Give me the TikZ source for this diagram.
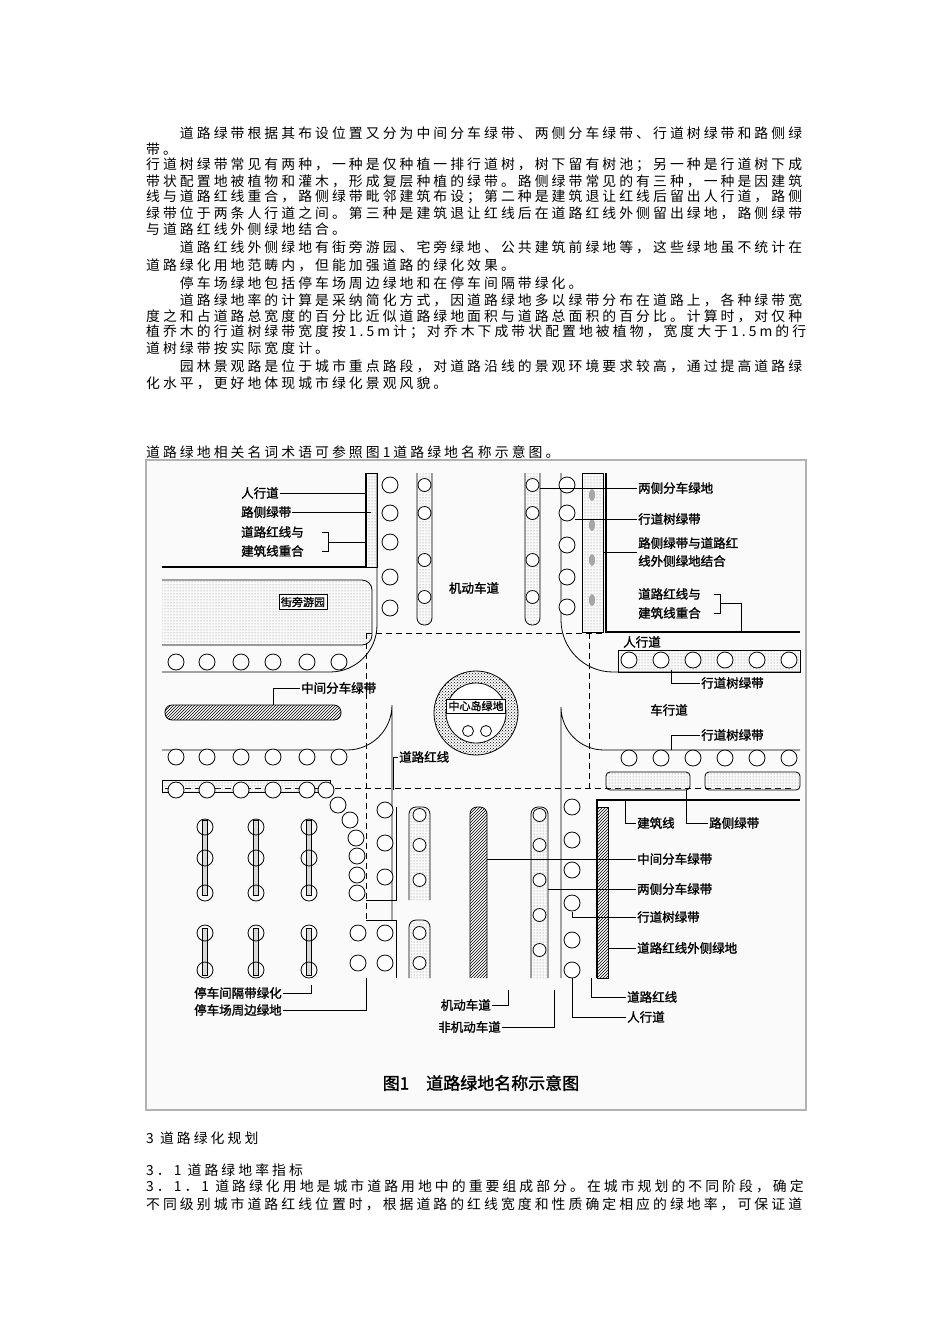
\documentclass[tikz,border=0pt]{standalone}
\usepackage{fontspec}
\usetikzlibrary{patterns}
\newfontfamily\cjk[LetterSpace=22]{Noto Sans CJK SC}
\newfontfamily\labf[FakeBold=1.5]{Noto Sans CJK SC}
\newcommand\tline[2]{\node[anchor=west,inner sep=0,font=\cjk\fontsize{13.85}{15}\selectfont] at (146,#1) {#2};}
\tikzset{
 tree/.style={draw,thick,circle,minimum size=16pt,inner sep=0,fill=white},
 lab/.style={font=\labf\fontsize{12.5}{13}\selectfont,inner sep=1pt},
 lead/.style={thick},
 bline/.style={line width=2.2pt},
 strip/.style={draw,thick,pattern=dots,pattern color=gray},
 hatch/.style={draw,thick,pattern=north east lines},
 dsh/.style={thick,dashed,dash pattern=on 6pt off 4pt},
}
\begin{document}
\begin{tikzpicture}[x=1pt,y=-1pt]
\useasboundingbox (0,0) rectangle (950,1344);
\fill[white] (0,0) rectangle (950,1344);
% ---- body text
\tline{133}{　　道路绿带根据其布设位置又分为中间分车绿带、两侧分车绿带、行道树绿带和路侧绿}
\tline{149}{带。}
\tline{165}{行道树绿带常见有两种，一种是仅种植一排行道树，树下留有树池；另一种是行道树下成}
\tline{181}{带状配置地被植物和灌木，形成复层种植的绿带。路侧绿带常见的有三种，一种是因建筑}
\tline{197}{线与道路红线重合，路侧绿带毗邻建筑布设；第二种是建筑退让红线后留出人行道，路侧}
\tline{213}{绿带位于两条人行道之间。第三种是建筑退让红线后在道路红线外侧留出绿地，路侧绿带}
\tline{229}{与道路红线外侧绿地结合。}
\tline{247}{　　道路红线外侧绿地有街旁游园、宅旁绿地、公共建筑前绿地等，这些绿地虽不统计在}
\tline{265}{道路绿化用地范畴内，但能加强道路的绿化效果。}
\tline{283}{　　停车场绿地包括停车场周边绿地和在停车间隔带绿化。}
\tline{300}{　　道路绿地率的计算是采纳简化方式，因道路绿地多以绿带分布在道路上，各种绿带宽}
\tline{316}{度之和占道路总宽度的百分比近似道路绿地面积与道路总面积的百分比。计算时，对仅种}
\tline{332}{植乔木的行道树绿带宽度按1.5m计；对乔木下成带状配置地被植物，宽度大于1.5m的行}
\tline{348}{道树绿带按实际宽度计。}
\tline{366}{　　园林景观路是位于城市重点路段，对道路沿线的景观环境要求较高，通过提高道路绿}
\tline{383}{化水平，更好地体现城市绿化景观风貌。}
\tline{452}{道路绿地相关名词术语可参照图1道路绿地名称示意图。}
\tline{1138}{3 道路绿化规划}
\tline{1170}{3．1 道路绿地率指标}
\tline{1186}{3．1．1 道路绿化用地是城市道路用地中的重要组成部分。在城市规划的不同阶段，确定}
\tline{1204}{不同级别城市道路红线位置时，根据道路的红线宽度和性质确定相应的绿地率，可保证道}
% ---- figure frame
\draw[gray!60,fill=gray!4,line width=1.5pt] (146,460) rectangle (806,1110);
% ---- top left block
\draw[bline] (162,567) -- (366,567) -- (366,473);
\draw[strip] (366,473) rectangle (377,567);
\draw[thick] (377,473) -- (377,625) arc[start angle=0,end angle=90,radius=47] -- (162,672);
\foreach \y in {485,513,542,577,608} \node[tree] at (390,\y) {};
\draw[strip,rounded corners=10pt] (162,580) -- (372,580) -- (372,645) -- (162,645);
\node[draw,thick,fill=white,font=\labf\fontsize{11}{12}\selectfont,inner sep=2pt] (jp) at (303,602) {街旁游园};
\foreach \x in {176,207,241,273,307,339} \node[tree] at (\x,662) {};
% dividers top
\draw[strip,rounded corners=7pt] (417,473) -- (417,625) -- (432,625) -- (432,473);
\foreach \y in {485,513,560,597} \node[tree,minimum size=13pt] at (424.5,\y) {};
\draw[strip,rounded corners=7pt] (525,473) -- (525,625) -- (540,625) -- (540,473);
\foreach \y in {485,513,560,597} \node[tree,minimum size=13pt] at (532.5,\y) {};
\node[lab] at (474,588) {机动车道};
% top right
\draw[bline] (606,473) -- (606,632) -- (800,632);
\draw[strip] (582,473) rectangle (603,632);
\foreach \y in {495,525,560,600} \fill[gray!70] (592,\y) ellipse (3 and 6);
\draw[thick] (561,473) -- (561,620) arc[start angle=180,end angle=90,radius=52] -- (800,672);
\foreach \y in {485,513,545,577,607} \node[tree] at (567,\y) {};
\draw[strip] (618,650) rectangle (800,672);
\foreach \x in {629,661,693,725,757,789} \node[tree] at (\x,660) {};
\node[lab] at (642,642) {人行道};
% dashed
\draw[dsh] (366,633) -- (606,633);
\draw[dsh] (366,633) -- (366,920);
\draw[dsh] (589,633) -- (589,788);
\draw[dsh] (165,788) -- (792,788);
% centre island
\draw[thick,pattern=crosshatch dots] (476,713) circle (42);
\draw[thick,fill=white] (476,713) circle (30);
\node[draw,thick,fill=white,font=\labf\fontsize{11}{12}\selectfont,inner sep=2pt] at (476,706) {中心岛绿地};
\node[tree,minimum size=11pt] at (468,731) {};
\node[tree,minimum size=11pt] at (486,731) {};
% median left
\draw[hatch,rounded corners=7pt] (165,705) rectangle (341,720);
\node[lab,anchor=west] (l1) at (300,688) {中间分车绿带};
\draw[lead] (l1.west) -- (273,688) -- (273,705);
\node[lab] at (669,710) {车行道};
% lower left horizontal road
\draw[thick] (162,750) -- (347,750) arc[start angle=90,end angle=0,radius=45] -- (392,920);
\foreach \x in {176,207,241,273,307,339} \node[tree] at (\x,757) {};
\draw[strip] (162,780) rectangle (330,792);
\foreach \x in {176,207,241,273,307} \node[tree] at (\x,790) {};
\foreach \p in {(326,790),(338,805),(350,820),(356,838),(357,856),(357,875),(357,893)} \node[tree] at \p {};
% lower right horizontal
\draw[thick] (800,750) -- (604,750) arc[start angle=90,end angle=180,radius=43] -- (561,978);
\foreach \x in {629,661,693,725,757,789} \node[tree] at (\x,758) {};
\draw[strip,rounded corners=4pt] (606,772) rectangle (690,790);
\draw[strip,rounded corners=4pt] (705,772) rectangle (800,790);
\draw[bline] (800,800) -- (597,800) -- (597,978);
\draw[hatch] (597,807) rectangle (608,978);
\foreach \y in {807,840,870,903,940,970} \node[tree] at (572,\y) {};
% lower dividers
\draw[strip,rounded corners=7pt] (531,978) -- (531,807) -- (548,807) -- (548,978);
\foreach \y in {815,845,880,915,950} \node[tree,minimum size=13pt] at (539.5,\y) {};
\draw[hatch,rounded corners=7pt] (470,978) -- (470,807) -- (487,807) -- (487,978);
\draw[strip,rounded corners=7pt] (409,900) -- (409,807) -- (430,807) -- (430,900);
\foreach \y in {815,845,880} \node[tree,minimum size=13pt] at (419.5,\y) {};
\draw[strip,rounded corners=7pt] (409,978) -- (409,920) -- (430,920) -- (430,978);
\foreach \y in {933,963} \node[tree,minimum size=13pt] at (419.5,\y) {};
\draw[thick] (396,807) -- (396,900) -- (366,900);
\draw[thick] (396,978) -- (396,920) -- (366,920);
\foreach \y in {810,843,877,933,963} \node[tree] at (385,\y) {};
\foreach \y in {933,963} \node[tree] at (358,\y) {};
% parking
\foreach \x in {205,256,309}{
 \draw[thick,fill=gray!30] (\x-2.5,820) rectangle (\x+2.5,895);
 \draw[thick,fill=gray!30] (\x-2.5,928) rectangle (\x+2.5,975);
 \foreach \y in {827,858,893,933,970} \draw[thick] (\x,\y) circle (8);
}
% ---- labels top left
\node[lab,anchor=west] (a1) at (240,493) {人行道};
\draw[lead] (a1.east) -- (366,493);
\node[lab,anchor=west] (a2) at (240,512) {路侧绿带};
\draw[lead] (a2.east) -- (371,512);
\node[lab,anchor=west] (a3) at (240,532) {道路红线与};
\node[lab,anchor=west] (a4) at (240,551) {建筑线重合};
\draw[lead] (322,532) -- (328,532) -- (328,551) -- (322,551);
\draw[lead] (328,542) -- (366,542);
% labels top right
\node[lab,anchor=west] (b1) at (637,488) {两侧分车绿地};
\draw[lead] (540,488) -- (b1.west);
\node[lab,anchor=west] (b2) at (637,519) {行道树绿带};
\draw[lead] (575,519) -- (b2.west);
\node[lab,anchor=west] (b3) at (637,543) {路侧绿带与道路红};
\node[lab,anchor=west] (b4) at (637,561) {线外侧绿地结合};
\draw[lead] (603,552) -- (637,552);
\node[lab,anchor=west] (b5) at (637,594) {道路红线与};
\node[lab,anchor=west] (b6) at (637,613) {建筑线重合};
\draw[lead] (714,594) -- (720,594) -- (720,613) -- (714,613);
\draw[lead] (720,603) -- (741,603) -- (741,632);
% right lower labels
\node[lab,anchor=west] (b7) at (700,735) {行道树绿带};
\draw[lead] (b7.west) -- (671,735) -- (671,750);
\node[lab,anchor=west] (b8) at (700,683) {行道树绿带};
\draw[lead] (671,670) -- (671,683) -- (b8.west);
\node[lab,anchor=west] (c0) at (398,757) {道路红线};
\draw[lead] (c0.west) -- (393,757) -- (393,790);
\node[lab,anchor=west] (c1) at (636,823) {建筑线};
\draw[lead] (c1.west) -- (625,823) -- (625,800);
\node[lab,anchor=west] (c2) at (708,823) {路侧绿带};
\draw[lead] (c2.west) -- (686,823) -- (686,790);
\node[lab,anchor=west] (c3) at (636,859) {中间分车绿带};
\draw[lead] (487,859) -- (c3.west);
\node[lab,anchor=west] (c4) at (636,889) {两侧分车绿带};
\draw[lead] (548,889) -- (c4.west);
\node[lab,anchor=west] (c5) at (636,917) {行道树绿带};
\draw[lead] (572,912) -- (572,917) -- (c5.west);
\node[lab,anchor=west] (c6) at (636,948) {道路红线外侧绿地};
\draw[lead] (608,948) -- (c6.west);
\node[lab,anchor=west] (c7) at (626,997) {道路红线};
\draw[lead] (c7.west) -- (591,997) -- (591,978);
\node[lab,anchor=west] (c8) at (626,1017) {人行道};
\draw[lead] (c8.west) -- (572,1017) -- (572,978);
\node[lab,anchor=east] (d1) at (492,1005) {机动车道};
\draw[lead] (d1.east) -- (508,1005) -- (508,990);
\node[lab,anchor=east] (d2) at (502,1027) {非机动车道};
\draw[lead] (d2.east) -- (554,1027) -- (554,990);
\node[lab,anchor=west] (e1) at (193,993) {停车间隔带绿化};
\draw[lead] (e1.east) -- (311,993) -- (311,985);
\node[lab,anchor=west] (e2) at (193,1010) {停车场周边绿地};
\draw[lead] (e2.east) -- (366,1010) -- (366,978);
\node[font=\labf\fontsize{17}{18}\selectfont] (cap) at (481,1083) {图1\quad 道路绿地名称示意图};
\end{tikzpicture}
\end{document}
